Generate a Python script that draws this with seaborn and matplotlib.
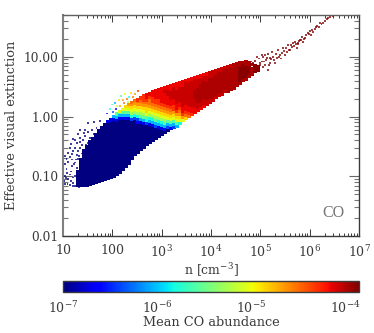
import numpy as np
import pandas as pd
import seaborn as sns
import matplotlib
matplotlib.use("Agg")
import matplotlib.pyplot as plt
from matplotlib.colors import LogNorm
from matplotlib.cm import ScalarMappable
from matplotlib.ticker import LogLocator, NullFormatter

W, H = 374, 333
INK = "#3a3a3a"

# log10 of the CO abundance for each code used in the columns below
code_chars = "0123456789abcdef"
code_log_co = [-7.0, -6.7, -6.4, -6.05, -5.8, -5.55, -5.3, -5.05,
               -4.85, -4.65, -4.5, -4.3, -4.15, -4.05, -3.98, -3.88]

# binned map: one entry per density bin, lower and upper edge of the filled
# part in log Av, and the codes going up from the lower edge
log_n_start = 1.304
log_n_step = 0.0608
log_av_step = 0.05
low_log_av = [-1.15, -1.15, -1.15, -1.15, -1.13, -1.12, -1.10, -1.08, -1.07, -1.05,
              -1.03, -1.02, -1.00, -0.97, -0.93, -0.88, -0.83, -0.78, -0.70, -0.63,
              -0.60, -0.55, -0.52, -0.47, -0.43, -0.40, -0.37, -0.33, -0.30, -0.27,
              -0.23, -0.20, -0.18, -0.17, -0.12, -0.07, -0.03, 0.00, 0.03, 0.07,
              0.10, 0.13, 0.17, 0.20, 0.23, 0.28, 0.32, 0.35, 0.38, 0.42,
              0.43, 0.45, 0.48, 0.52, 0.55, 0.60, 0.63, 0.67, 0.70, 0.75, 0.78]
high_log_av = [-0.92, -0.72, -0.58, -0.50, -0.43, -0.37, -0.30, -0.23, -0.18, -0.13,
               -0.08, -0.05, 0.00, 0.05, 0.08, 0.12, 0.17, 0.20, 0.23, 0.27,
               0.28, 0.32, 0.35, 0.37, 0.38, 0.42, 0.43, 0.45, 0.47, 0.48,
               0.50, 0.52, 0.53, 0.55, 0.57, 0.58, 0.60, 0.62, 0.63, 0.65,
               0.67, 0.68, 0.70, 0.72, 0.73, 0.75, 0.77, 0.78, 0.80, 0.82,
               0.83, 0.85, 0.87, 0.88, 0.90, 0.90, 0.91, 0.90, 0.87, 0.85, 0.83]
bin_codes = [
    "0" * 6, "0" * 10, "0" * 12, "0" * 14, "0" * 15, "0" * 16, "0" * 17,
    "0" * 18, "0" * 18, "0" * 19, "0" * 19 + "1", "0" * 19 + "1",
    "0" * 19 + "13", "0" * 18 + "135", "0" * 18 + "1357", "0" * 17 + "1357",
    "0" * 16 + "13578", "0" * 15 + "135789", "0" * 13 + "246789a",
    "0" * 12 + "246789a", "0" * 10 + "124678" + "9ab",
    "0" * 9 + "135678" + "9ab", "0" * 8 + "135678" + "9abb",
    "0" * 7 + "2457889abc", "0" * 6 + "134678" + "9aabcc",
    "0" * 5 + "134678" + "9abbcc", "0" * 4 + "235678" + "9abbccc",
    "0" * 3 + "134678" + "9abbcccc", "0" * 2 + "134678" + "9abccccc",
    "0135678" + "9abccccdc", "0235789abcccddcc", "135789abccdddcc",
    "235789bbccddddcc", "35789bccdddddcc", "4789abccdddddc",
    "79bccdddddddcc", "8abccddddddddc", "abccddddddddc", "bccdddddddddc",
    "ccdddeeeddddc", "cddeeeeedddc", "cddeeeeeeddc", "cddeeeeeeddc",
    "ddeeeeeeddc", "ddeeeeeeedd", "deeeeeeedd", "deeeeeeedd", "deeeeeeeed",
    "deeeeeeed", "deeeeeeed", "eeeeeeeed", "eeeeeeeed", "eeeeeeee",
    "eeeeeeeee", "efffffee", "efffffe", "effffe", "efffe", "eee",
    "ff", "f",
]

# isolated low density cells on the left (all at the lowest abundance)
left_log_n = [1.51, 1.62, 1.75, 1.82, 1.68, 1.58, 1.35, 1.45, 1.51, 1.62, 1.45,
              1.35, 1.55, 1.21, 1.41, 1.28, 1.38, 1.51, 1.14, 1.24, 1.35, 1.21,
              1.11, 1.31, 1.18, 1.04, 1.28, 1.07, 1.18, 1.31, 1.11, 1.24, 1.04,
              1.35, 1.18, 1.28, 1.07, 1.35, 1.14, 1.28, 1.04, 1.21, 1.31, 1.11,
              1.02, 1.21, 1.35, 1.04, 1.14, 1.31, 1.41, 1.24, 1.38,
              1.30, 1.42, 1.25, 1.46, 1.34, 1.16, 1.40, 1.33, 1.42, 1.22, 1.37,
              1.42, 1.17, 1.25, 1.40, 1.08, 1.17, 1.28, 1.06, 1.09, 1.20, 1.32,
              1.27, 1.15, 1.38, 1.44, 1.44, 1.46, 1.45, 1.48]
left_log_av = [-0.11, -0.09, -0.08, -0.13, -0.19, -0.22, -0.22, -0.23, -0.26,
               -0.30, -0.33, -0.36, -0.36, -0.37, -0.39, -0.44, -0.47, -0.44,
               -0.52, -0.52, -0.52, -0.58, -0.61, -0.58, -0.63, -0.66, -0.65,
               -0.71, -0.72, -0.71, -0.76, -0.77, -0.80, -0.77, -0.83, -0.86,
               -0.88, -0.88, -0.97, -0.94, -0.99, -1.02, -0.99, -1.05, -1.08,
               -1.11, -1.08, -1.13, -1.15, -1.13, -1.11, -1.16, -1.16,
               -0.30, -0.28, -0.40, -0.48, -0.42, -0.46, -0.58, -0.66, -0.65,
               -0.80, -0.82, -0.90, -0.92, -1.00, -0.98, -0.95, -1.08, -1.08,
               -1.03, -1.13, -1.17, -1.18, -0.72, -0.68, -0.62, -0.72, -0.82,
               -0.95, -1.05, -1.13]

# isolated cells above the transition, mixed abundances
mixed_log_n = [1.99, 2.05, 2.09, 2.14, 2.18, 2.22, 2.26, 2.30, 2.34, 2.38, 2.42,
               2.46, 2.52, 2.07, 2.01, 2.16, 2.24, 2.32, 1.95, 1.89]
mixed_log_av = [0.20, 0.23, 0.17, 0.28, 0.35, 0.28, 0.38, 0.30, 0.33, 0.40, 0.33,
                0.37, 0.42, 0.12, 0.08, 0.18, 0.22, 0.25, 0.12, 0.05]
mixed_codes = "5378597a48a9b129a641"

# high density tail (darkest colour)
tail_log_n = [4.85, 4.93, 5.03, 5.09, 5.03, 5.14, 4.95, 5.05, 5.20, 5.24, 5.26,
              5.34, 5.36, 5.44, 5.46, 5.54, 5.56, 5.64, 5.66, 5.74, 5.76, 5.16,
              4.89, 4.83, 4.99, 5.30, 5.70, 5.76, 5.84, 5.90, 5.97, 6.01, 6.07,
              6.15, 6.21, 6.27, 6.35, 6.41, 6.47, 5.80, 5.86, 6.03, 6.11, 6.19,
              6.31, 5.60, 5.50, 5.40, 5.20,
              4.78, 4.80, 4.88, 4.90, 4.97, 5.00, 5.07, 5.10, 5.12, 5.18, 5.22,
              5.28, 5.32, 5.38, 5.42, 5.48, 5.52, 5.58, 5.62, 5.68, 5.72, 5.78,
              5.82, 5.88, 5.93, 5.99, 6.05, 6.13, 6.24, 6.38, 4.92, 5.06, 5.15,
              4.82, 4.76]
tail_log_av = [0.90, 1.00, 1.03, 1.03, 0.92, 0.98, 0.83, 0.83, 0.90, 1.08, 1.00,
               0.98, 1.12, 1.07, 1.15, 1.08, 1.20, 1.17, 1.23, 1.15, 1.22, 0.78,
               0.75, 0.82, 0.90, 0.90, 1.25, 1.23, 1.33, 1.32, 1.40, 1.43, 1.42,
               1.52, 1.57, 1.57, 1.63, 1.67, 1.68, 1.28, 1.25, 1.37, 1.47, 1.50,
               1.60, 1.12, 1.03, 1.03, 0.98,
               0.80, 0.88, 0.85, 0.93, 0.97, 0.86, 0.92, 0.86, 0.94, 0.86, 0.96,
               0.95, 1.05, 1.00, 0.97, 1.10, 1.15, 1.12, 1.20, 1.18, 1.22, 1.26,
               1.28, 1.30, 1.36, 1.38, 1.45, 1.50, 1.55, 1.65, 0.78, 1.00, 1.05,
               0.92, 0.92]

x_tick_vals = [10, 100, 1e3, 1e4, 1e5, 1e6, 1e7]
x_tick_text = ["10", "100", "$10^{3}$", "$10^{4}$", "$10^{5}$", "$10^{6}$", "$10^{7}$"]
y_tick_vals = [0.01, 0.1, 1, 10]
y_tick_text = ["0.01", "0.10", "1.00", "10.00"]
cbar_tick_vals = [1e-7, 1e-6, 1e-5, 1e-4]
cbar_tick_text = ["$10^{-7}$", "$10^{-6}$", "$10^{-5}$", "$10^{-4}$"]

# build the tables
rows = []
for i, codes in enumerate(bin_codes):
    log_n = log_n_start + i * log_n_step
    for k, c in enumerate(codes):
        log_av = min(low_log_av[i] + k * log_av_step, high_log_av[i])
        rows.append((10 ** log_n, 10 ** log_av, 10 ** code_log_co[code_chars.index(c)]))
    # last cell sits on the read upper edge
    rows.append((10 ** log_n, 10 ** high_log_av[i], 10 ** code_log_co[code_chars.index(codes[-1])]))
core = pd.DataFrame(rows, columns=["n", "av", "co"])

left = pd.DataFrame({"n": 10 ** np.array(left_log_n), "av": 10 ** np.array(left_log_av)})
left["co"] = 1e-7
mixed = pd.DataFrame({"n": 10 ** np.array(mixed_log_n), "av": 10 ** np.array(mixed_log_av)})
mixed["co"] = [10 ** code_log_co[code_chars.index(c)] for c in mixed_codes]
tail = pd.DataFrame({"n": 10 ** np.array(tail_log_n), "av": 10 ** np.array(tail_log_av)})
tail["co"] = 1.4e-4

sns.set_theme(style="white", rc={"mathtext.fontset": "dejavuserif"})
plt.rcParams["font.family"] = ["DejaVu Serif"]

fig = plt.figure(figsize=(W / 100, H / 100), dpi=100)
ax = fig.add_axes([63 / W, 1 - 236 / H, 296 / W, 221 / H])
cax = fig.add_axes([63 / W, 1 - 292 / H, 296 / W, 11 / H])

jet = plt.get_cmap("jet")
norm = LogNorm(1e-7, 1.41e-4)
sns.scatterplot(data=core, x="n", y="av", hue="co", hue_norm=norm, palette=jet,
                marker="s", s=6.2, linewidth=0, legend=False, ax=ax)
sns.scatterplot(data=pd.concat([left, mixed, tail]), x="n", y="av", hue="co",
                hue_norm=norm, palette=jet, marker="s", s=1.8, linewidth=0,
                alpha=0.75, legend=False, ax=ax)

ax.set_xscale("log")
ax.set_yscale("log")
ax.set_xlim(10, 1e7)
ax.set_ylim(0.01, 50)
ax.set_xticks(x_tick_vals, x_tick_text)
ax.set_yticks(y_tick_vals, y_tick_text)
ax.xaxis.set_minor_locator(LogLocator(10, subs=range(2, 10), numticks=12))
ax.yaxis.set_minor_locator(LogLocator(10, subs=range(2, 10), numticks=12))
ax.xaxis.set_minor_formatter(NullFormatter())
ax.yaxis.set_minor_formatter(NullFormatter())
ax.tick_params(which="major", axis="x", direction="in", top=True, bottom=True,
               length=5, width=0.7, color=INK, labelsize=9, labelcolor=INK, pad=5.5)
ax.tick_params(which="minor", axis="x", direction="in", top=True, bottom=True,
               length=2.5, width=0.7, color=INK)
ax.tick_params(which="major", axis="y", direction="in", left=True, right=True,
               length=7, width=0.8, color="#666666", labelsize=8.8, labelcolor=INK, pad=3)
ax.tick_params(which="minor", axis="y", direction="in", left=True, right=True,
               length=3.5, width=0.8, color="#777777")
for s in ax.spines.values():
    s.set_linewidth(1)
    s.set_color(INK)
ax.spines["left"].set_color("#808080")
ax.spines["left"].set_linewidth(1.5)
ax.spines["top"].set_color("#606060")
ax.set_xlabel("n [cm$^{-3}$]", fontsize=9, color=INK)
ax.xaxis.set_label_coords(0.5, -25 / 221)
ax.set_ylabel("Effective visual extinction", fontsize=9.3, color=INK, labelpad=4)
ax.text(5.2e6, 0.0242, "CO", fontsize=11.5, color="#777777", ha="right", va="center",
        family="Liberation Serif")

cb = fig.colorbar(ScalarMappable(norm=norm, cmap=jet), cax=cax, orientation="horizontal")
cb.set_ticks(cbar_tick_vals, labels=cbar_tick_text)
cb.ax.minorticks_off()
cb.ax.tick_params(axis="x", which="major", direction="in", length=3, width=0.7, color=INK,
                  labelsize=9, labelcolor=INK, pad=6)
cb.outline.set_edgecolor(INK)
cb.outline.set_linewidth(1)
cb.set_label("Mean CO abundance", fontsize=9.3, color=INK, labelpad=0)

fig.savefig("out.png", dpi=100)
